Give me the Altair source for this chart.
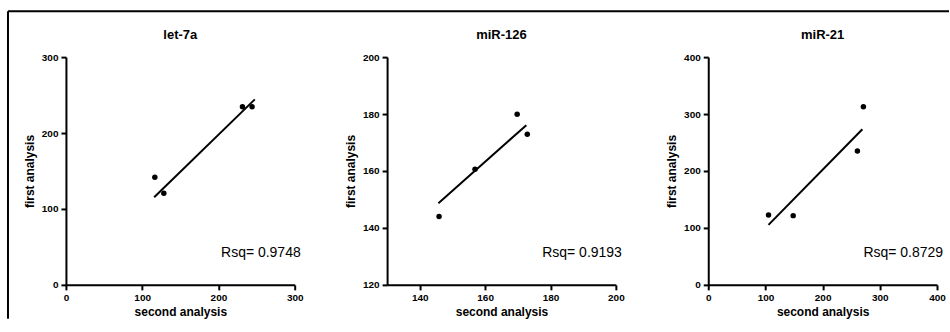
import altair as alt
import pandas as pd

FONT = "Liberation Sans"

# ---- data ----
panel_names = ["let-7a", "miR-126", "miR-21"]
rsq_labels = ["Rsq= 0.9748", "Rsq= 0.9193", "Rsq= 0.8729"]

let7a_second = [116.6, 128.4, 231.5, 244.1]
let7a_first = [141.7, 120.6, 234.6, 234.6]
let7a_fit_second = [115.7, 247.7]
let7a_fit_first = [115.4, 244.3]

mir126_second = [145.9, 156.9, 169.8, 172.9]
mir126_first = [144.0, 160.6, 179.9, 172.9]
mir126_fit_second = [145.7, 172.6]
mir126_fit_first = [148.7, 176.1]

mir21_second = [105.4, 148.5, 260.8, 271.3]
mir21_first = [122.8, 121.6, 235.1, 312.8]
mir21_fit_second = [105.3, 269.5]
mir21_fit_first = [105.3, 273.2]

let7a_x_ticks = [0, 100, 200, 300]
let7a_y_ticks = [0, 100, 200, 300]
mir126_x_ticks = [140, 160, 180, 200]
mir126_y_ticks = [120, 140, 160, 180, 200]
mir21_x_ticks = [0, 100, 200, 300, 400]
mir21_y_ticks = [0, 100, 200, 300, 400]

W, H = 229, 228


def panel(name, xs, ys, fx, fy, rsq, xdom, xticks, ydom, yticks, border=False):
    pts = pd.DataFrame({"second": xs, "first": ys})
    fit = pd.DataFrame({"second": fx, "first": fy})
    xenc = alt.X("second:Q", scale=alt.Scale(domain=xdom, nice=False, zero=False),
                 axis=alt.Axis(values=xticks, title="second analysis"))
    yenc = alt.Y("first:Q", scale=alt.Scale(domain=ydom, nice=False, zero=False),
                 axis=alt.Axis(values=yticks, title="first analysis"))
    points = alt.Chart(pts).mark_circle(size=30, color="black", opacity=1).encode(x=xenc, y=yenc)
    line = alt.Chart(fit).mark_line(color="black", strokeWidth=2).encode(x=xenc, y=yenc)
    text = alt.Chart(pd.DataFrame({"label": [rsq]})).mark_text(
        align="right", baseline="alphabetic", fontSize=14, font=FONT, color="black"
    ).encode(x=alt.value(235), y=alt.value(200), text="label:N")
    title = alt.Chart(pd.DataFrame({"label": [name]})).mark_text(
        align="center", baseline="alphabetic", fontSize=13, fontWeight="bold",
        font=FONT, color="black"
    ).encode(x=alt.value(W / 2), y=alt.value(-18), text="label:N")
    layers = [points, line, text, title]
    if border:
        one = pd.DataFrame({"k": [0]})
        top = alt.Chart(one).mark_rule(color="black", strokeWidth=2).encode(
            x=alt.value(-58), x2=alt.value(884), y=alt.value(-46))
        left = alt.Chart(one).mark_rule(color="black", strokeWidth=2).encode(
            x=alt.value(-58), y=alt.value(-46), y2=alt.value(262))
        layers += [top, left]
    return alt.layer(*layers).properties(width=W, height=H)


p1 = panel(panel_names[0], let7a_second, let7a_first, let7a_fit_second, let7a_fit_first,
           rsq_labels[0], [0, 300], let7a_x_ticks, [0, 300], let7a_y_ticks, border=True)
p2 = panel(panel_names[1], mir126_second, mir126_first, mir126_fit_second, mir126_fit_first,
           rsq_labels[1], [130, 200], mir126_x_ticks, [120, 200], mir126_y_ticks)
p3 = panel(panel_names[2], mir21_second, mir21_first, mir21_fit_second, mir21_fit_first,
           rsq_labels[2], [0, 400], mir21_x_ticks, [0, 400], mir21_y_ticks)

chart = alt.hconcat(p1, p2, p3, spacing=92.5, bounds="flush").properties(
    padding={"left": 7, "top": 10, "right": 0, "bottom": 0}
).configure_view(stroke=None).configure_axis(
    domainColor="black", domainWidth=2, tickColor="black", tickWidth=2, tickSize=5,
    labelFont=FONT, labelFontSize=10, labelFontWeight="bold", labelColor="black",
    labelPadding=3, labelFlush=False, labelOverlap=False,
    titleFont=FONT, titleFontSize=12, titleFontWeight="bold", titleColor="black",
    grid=False,
).configure_axisX(titlePadding=4).configure_axisY(titlePadding=5)

chart.save("out.html", embed_options={"renderer": "svg", "actions": False})
